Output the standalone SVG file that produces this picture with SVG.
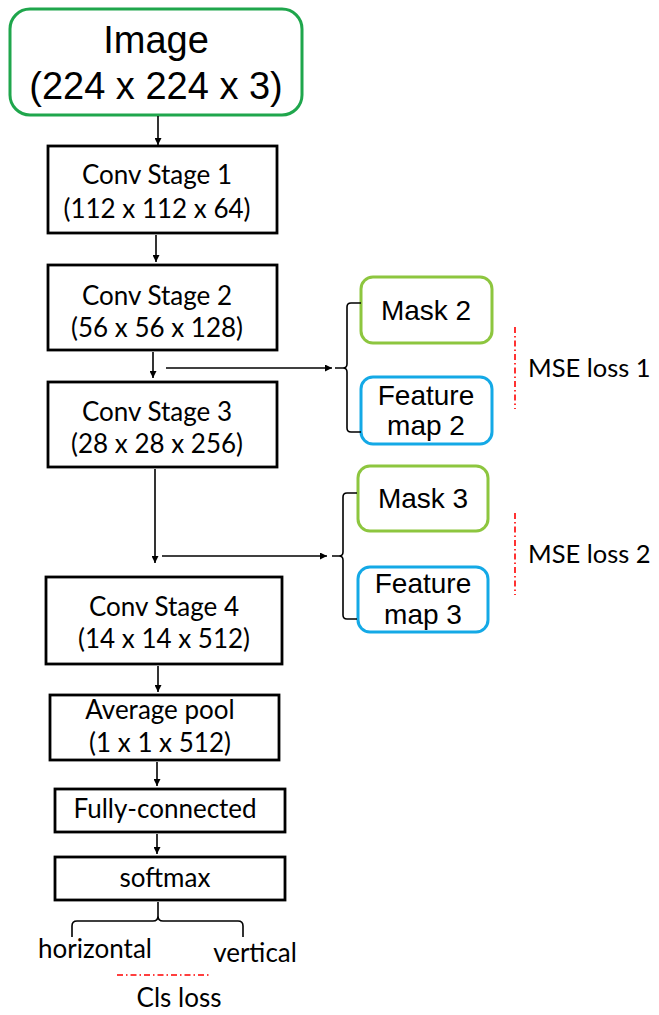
<svg xmlns="http://www.w3.org/2000/svg" width="659" height="1015" viewBox="0 0 659 1015">
<style>
.box{fill:#fff;stroke:#000;stroke-width:2.8}
.cal{font-family:Lato,"Open Sans",sans-serif;fill:#000;text-anchor:middle;font-size:26px}
.ar{font-family:"Liberation Sans",Arial,sans-serif;fill:#000;text-anchor:middle}
.ln{fill:none;stroke:#000;stroke-width:1.6}
.red{fill:none;stroke:#ff0000;stroke-width:1.6;stroke-dasharray:6 3 1.5 3}
</style>
<defs>
<marker id="ah" viewBox="0 0 10 10" refX="10" refY="5" markerWidth="7" markerHeight="7" orient="auto" markerUnits="userSpaceOnUse">
<path d="M0,0 L10,5 L0,10 z" fill="#000"/>
</marker>
</defs>
<rect width="659" height="1015" fill="#fff"/>
<g id="image">
<rect x="10" y="9" width="292" height="106" rx="20" fill="#fff" stroke="#1fa64c" stroke-width="3"/>
<text class="ar" x="156" y="53" font-size="38">Image</text>
<text class="ar" x="156" y="99" font-size="38">(224 x 224 x 3)</text>
</g>
<g id="conv1">
<rect class="box" x="48" y="146" width="229" height="87"/>
<text class="cal" x="157" y="184">Conv Stage 1</text>
<text class="cal" x="157" y="218">(112 x 112 x 64)</text>
</g>
<g id="conv2">
<rect class="box" x="48" y="265" width="229" height="85"/>
<text class="cal" x="157" y="305">Conv Stage 2</text>
<text class="cal" x="157" y="337">(56 x 56 x 128)</text>
</g>
<g id="conv3">
<rect class="box" x="48" y="382" width="229" height="85"/>
<text class="cal" x="157" y="421">Conv Stage 3</text>
<text class="cal" x="157" y="453">(28 x 28 x 256)</text>
</g>
<g id="conv4">
<rect class="box" x="46" y="577" width="236" height="87"/>
<text class="cal" x="164" y="616">Conv Stage 4</text>
<text class="cal" x="164" y="648">(14 x 14 x 512)</text>
</g>
<g id="avgpool">
<rect class="box" x="50" y="695" width="229" height="65"/>
<text class="cal" x="160" y="719">Average pool</text>
<text class="cal" x="160" y="752">(1 x 1 x 512)</text>
</g>
<g id="fc">
<rect class="box" x="55" y="789" width="230" height="43"/>
<text class="cal" x="165" y="818">Fully-connected</text>
</g>
<g id="softmax">
<rect class="box" x="55" y="857" width="230" height="43"/>
<text class="cal" x="165" y="887">softmax</text>
</g>
<g id="mask2">
<rect x="361" y="277" width="131" height="66" rx="12" fill="#fff" stroke="#8dc63f" stroke-width="3"/>
<text class="ar" x="426" y="320" font-size="28">Mask 2</text>
</g>
<g id="fmap2">
<rect x="361" y="377" width="131" height="67" rx="12" fill="#fff" stroke="#14a9e6" stroke-width="3"/>
<text class="ar" x="426" y="405" font-size="28">Feature</text>
<text class="ar" x="426" y="435" font-size="28">map 2</text>
</g>
<g id="mask3">
<rect x="358" y="466" width="130" height="65" rx="12" fill="#fff" stroke="#8dc63f" stroke-width="3"/>
<text class="ar" x="423" y="508" font-size="28">Mask 3</text>
</g>
<g id="fmap3">
<rect x="358" y="567" width="130" height="65" rx="12" fill="#fff" stroke="#14a9e6" stroke-width="3"/>
<text class="ar" x="423" y="593" font-size="28">Feature</text>
<text class="ar" x="423" y="624" font-size="28">map 3</text>
</g>
<g id="loss-labels">
<text class="cal" x="528" y="377" style="text-anchor:start;font-size:25.5px">MSE loss 1</text>
<text class="cal" x="528" y="563" style="text-anchor:start;font-size:25.5px">MSE loss 2</text>
<text class="cal" x="95" y="958">horizontal</text>
<text class="cal" x="255" y="962">vertical</text>
<text class="cal" x="179" y="1007">Cls loss</text>
</g>
<g id="connectors">
<line class="ln" x1="158" y1="116" x2="158" y2="145" marker-end="url(#ah)"/>
<line class="ln" x1="156" y1="235" x2="156" y2="262" marker-end="url(#ah)"/>
<line class="ln" x1="153" y1="352" x2="153" y2="378" marker-end="url(#ah)"/>
<line class="ln" x1="166" y1="368" x2="332" y2="368" marker-end="url(#ah)"/>
<path class="ln" d="M361,303 L351,303 Q347,303 347,307 L347,364 Q347,368 343,368 L335,368 M343,368 Q347,368 347,372 L347,428 Q347,432 351,432 L361,432"/>
<line class="ln" x1="155" y1="469" x2="155" y2="563" marker-end="url(#ah)"/>
<line class="ln" x1="162" y1="556" x2="327" y2="556" marker-end="url(#ah)"/>
<path class="ln" d="M357,493 L347,493 Q343,493 343,497 L343,552 Q343,556 339,556 L332,556 M339,556 Q343,556 343,560 L343,615 Q343,619 347,619 L357,619"/>
<line class="ln" x1="158" y1="666" x2="158" y2="692" marker-end="url(#ah)"/>
<line class="ln" x1="157" y1="762" x2="157" y2="786" marker-end="url(#ah)"/>
<line class="ln" x1="157" y1="834" x2="157" y2="854" marker-end="url(#ah)"/>
<path class="ln" d="M158,902 L158,916 Q158,921 153,921 L77,921 Q72,921 72,926 L72,937 M158,916 Q158,921 163,921 L238,921 Q243,921 243,926 L243,937"/>
<line class="red" x1="515" y1="327" x2="515" y2="409"/>
<line class="red" x1="515" y1="513" x2="515" y2="595"/>
<line class="red" x1="117" y1="975" x2="210" y2="975"/>
</g>
</svg>
